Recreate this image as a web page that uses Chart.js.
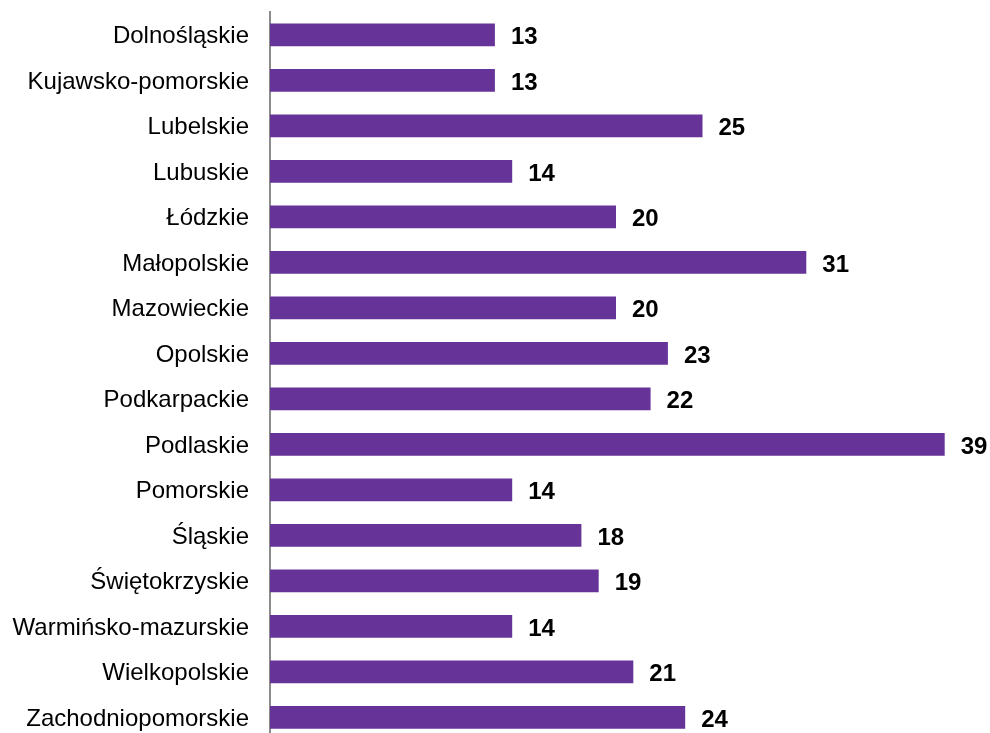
<!DOCTYPE html>
<html>
<head>
<meta charset="utf-8">
<script src="https://cdn.jsdelivr.net/npm/chart.js@4"></script>
<style>
  html, body { margin: 0; padding: 0; background: #fff; overflow: hidden; }
  #wrap { width: 990px; height: 741px; }
</style>
</head>
<body>
<div id="wrap"><canvas id="mainChart"></canvas></div>
<script>
const regions = ['Dolnośląskie','Kujawsko-pomorskie','Lubelskie','Lubuskie','Łódzkie','Małopolskie','Mazowieckie','Opolskie','Podkarpackie','Podlaskie','Pomorskie','Śląskie','Świętokrzyskie','Warmińsko-mazurskie','Wielkopolskie','Zachodniopomorskie'];
const values = [13,13,25,14,20,31,20,23,22,39,14,18,19,14,21,24];

// simple value labels at the end of each bar
const valueLabels = {
    id: 'valueLabels',
    afterDatasetsDraw(chart) {
        const ctx = chart.ctx;
        const meta = chart.getDatasetMeta(0);
        ctx.save();
        ctx.font = 'bold 24px "Liberation Sans", Arial, sans-serif';
        ctx.fillStyle = '#000';
        ctx.textAlign = 'left';
        ctx.textBaseline = 'middle';
        meta.data.forEach((bar, i) => {
            ctx.fillText(values[i], bar.x + 16, bar.y + 3);
        });
        ctx.restore();
    }
};

new Chart(document.getElementById('mainChart'), {
    type: 'bar',
    data: {
        labels: regions,
        datasets: [{
            data: values,
            backgroundColor: '#663399',
            borderWidth: 0,
            categoryPercentage: 1,
            barPercentage: 0.5
        }]
    },
    options: {
        indexAxis: 'y',
        responsive: true,
        maintainAspectRatio: false,
        animation: false,
        layout: { padding: { top: 12, right: 28, bottom: 1, left: 0 } },
        plugins: {
            legend: { display: false },
            tooltip: { enabled: false }
        },
        scales: {
            x: { display: false, min: 0, max: 40 },
            y: {
                afterFit(scale) {
                    scale.width = 270;
                    scale.paddingTop = 0;
                    scale.paddingBottom = 0;
                },
                grid: { display: false, drawTicks: false },
                border: { display: true, color: '#8c8c8c', width: 2 },
                ticks: {
                    color: '#000',
                    padding: 21,
                    labelOffset: 2,
                    font: { family: '"Liberation Sans", Arial, sans-serif', size: 24 }
                }
            }
        }
    },
    plugins: [valueLabels]
});
</script>
</body>
</html>
